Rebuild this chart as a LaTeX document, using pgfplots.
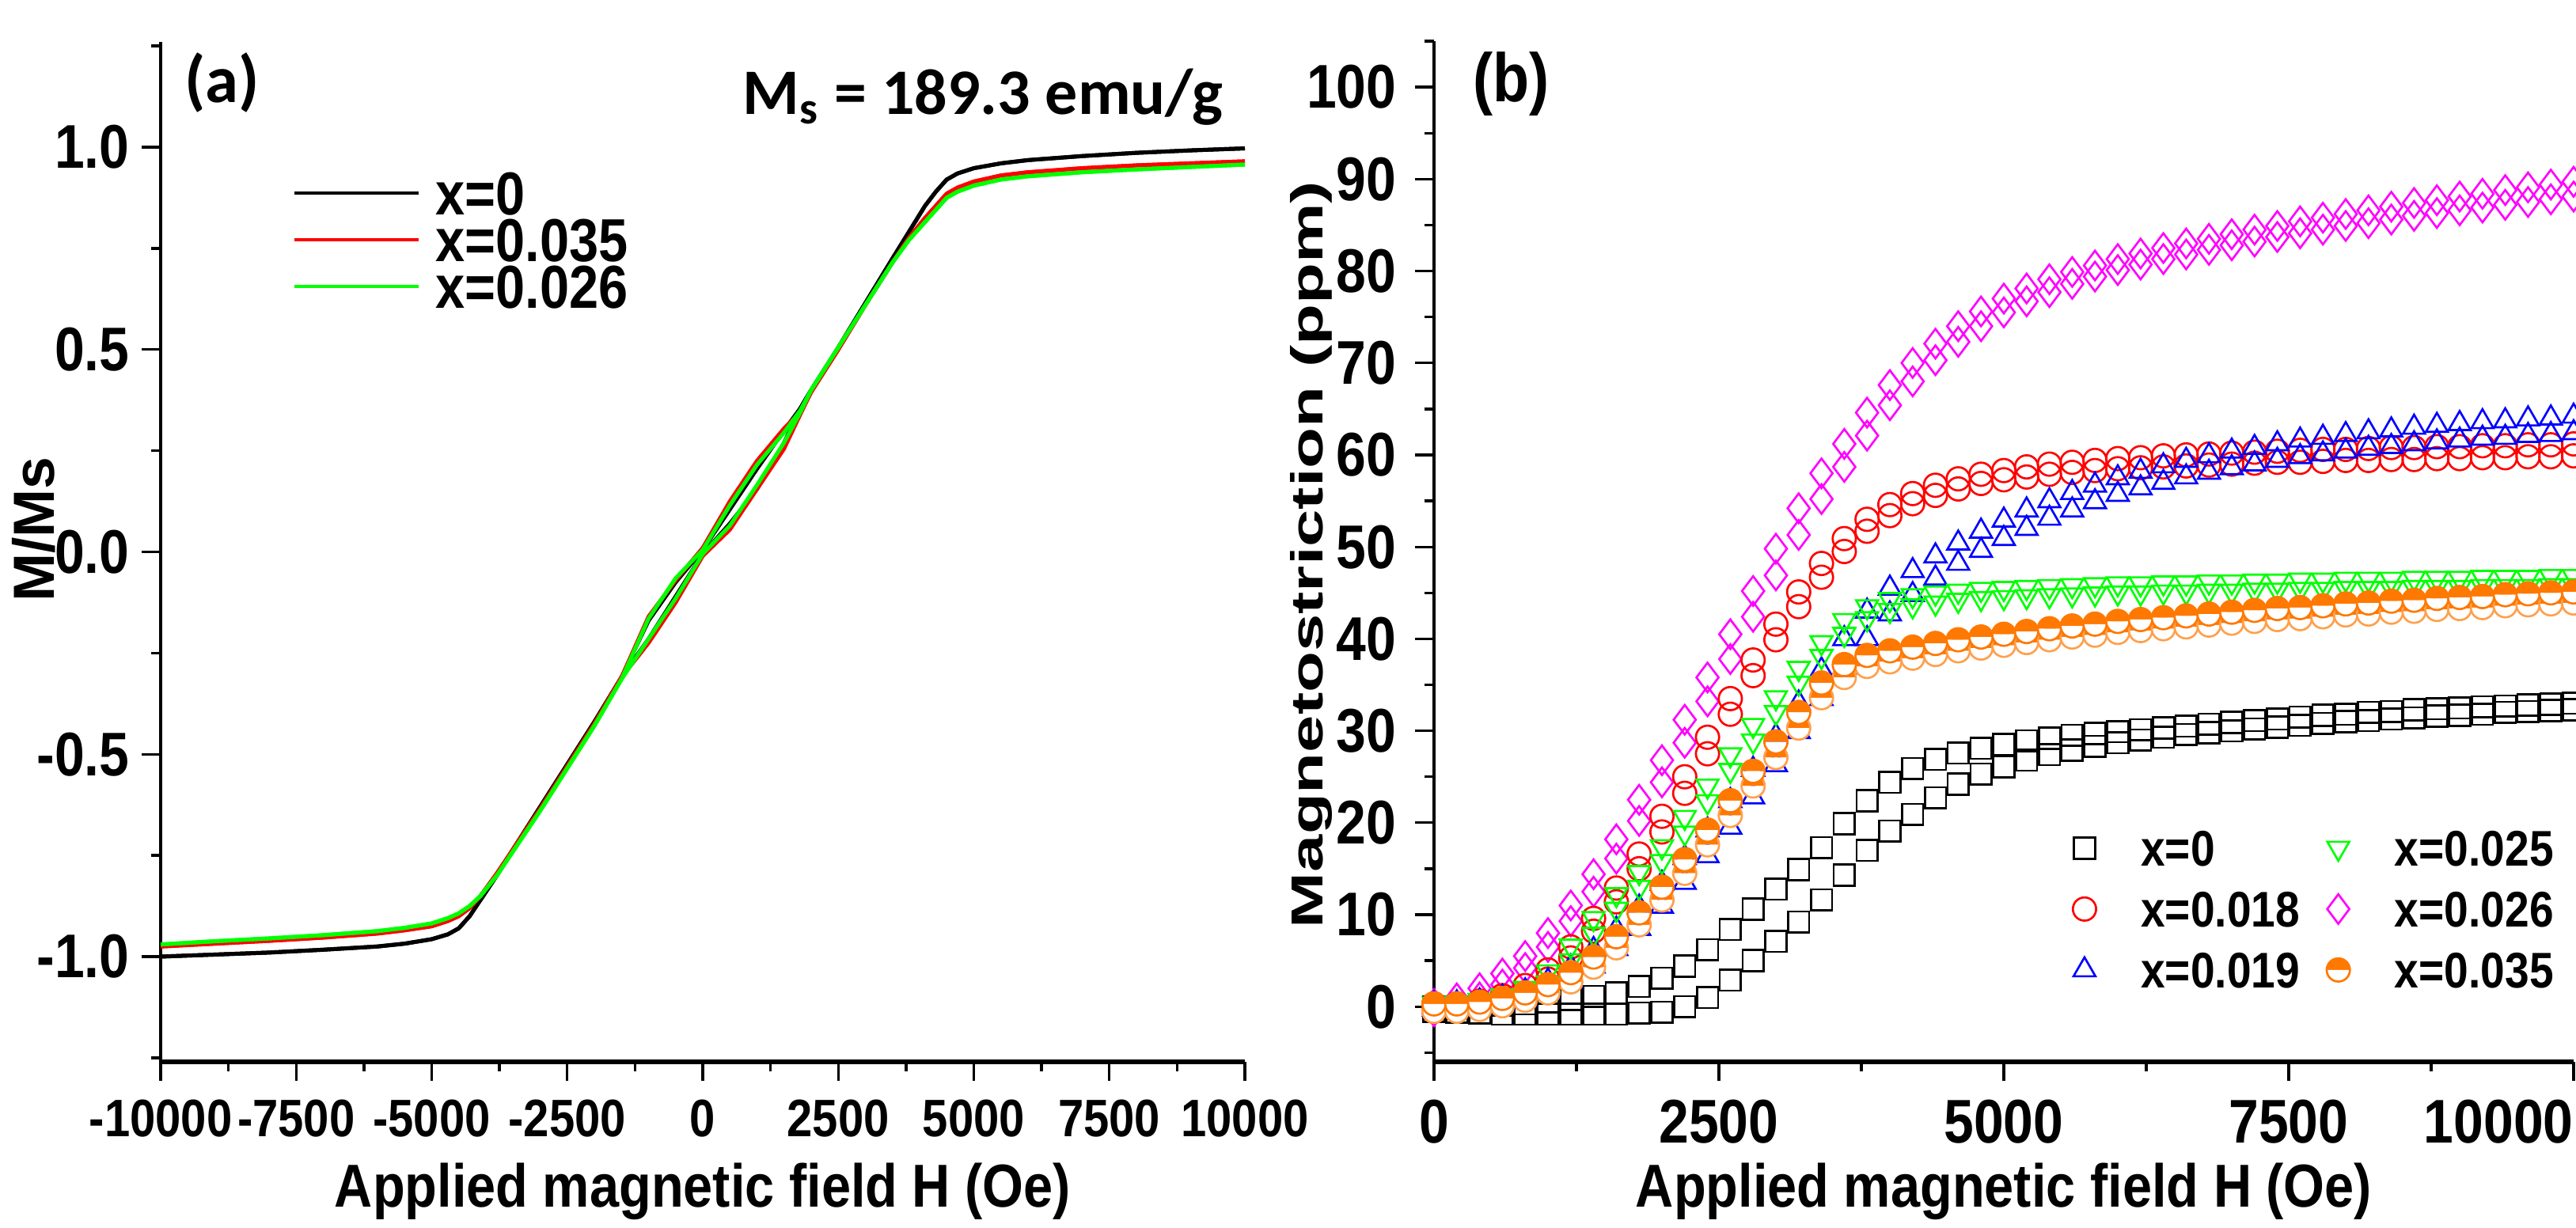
\documentclass[border=0pt]{standalone}
\usepackage{pgfplots}
\pgfplotsset{compat=1.18}
\usepackage{pgfplotstable}
\usepackage{fontspec}
\setmainfont{Liberation Sans}
\newfontfamily\lab{Liberation Sans}[FakeStretch=0.87]
\newfontfamily\labwide{Liberation Sans}[FakeStretch=1.5]
\newfontfamily\carl{Carlito}
\usetikzlibrary{plotmarks}
\definecolor{mgreen}{RGB}{0,255,0}
\definecolor{mmag}{RGB}{255,0,255}
\definecolor{morange}{RGB}{255,120,0}

% (a) M/Ms loops: u = field going up, d = field coming down
\pgfplotstableread{
H      a0u    a0d    a35u   a35d   a26u   a26d
-10000 -1.000 -1.000 -0.975 -0.975 -0.970 -0.970
-9000  -0.995 -0.995 -0.968 -0.968 -0.962 -0.962
-8000  -0.990 -0.990 -0.961 -0.961 -0.955 -0.955
-7000  -0.983 -0.983 -0.953 -0.953 -0.947 -0.947
-6000  -0.975 -0.975 -0.943 -0.943 -0.937 -0.937
-5500  -0.968 -0.968 -0.935 -0.935 -0.929 -0.929
-5000  -0.957 -0.957 -0.925 -0.925 -0.918 -0.918
-4700  -0.945 -0.945 -0.912 -0.912 -0.905 -0.905
-4500  -0.930 -0.930 -0.900 -0.900 -0.893 -0.893
-4300  -0.900 -0.900 -0.880 -0.880 -0.875 -0.875
-4100  -0.860 -0.860 -0.850 -0.850 -0.850 -0.850
-3800  -0.800 -0.800 -0.795 -0.795 -0.800 -0.800
-3500  -0.735 -0.735 -0.735 -0.735 -0.740 -0.740
-3000  -0.630 -0.630 -0.635 -0.635 -0.640 -0.640
-2500  -0.525 -0.525 -0.530 -0.530 -0.535 -0.535
-2000  -0.420 -0.420 -0.425 -0.425 -0.430 -0.430
-1500  -0.310 -0.310 -0.310 -0.310 -0.315 -0.315
-1000  -0.215 -0.170 -0.225 -0.160 -0.215 -0.165
-500   -0.110 -0.075 -0.125 -0.070 -0.115 -0.065
0      -0.005  0.005 -0.010  0.010 -0.005  0.005
500     0.070  0.105  0.055  0.125  0.065  0.115
1000    0.155  0.205  0.155  0.225  0.165  0.215
1500    0.270  0.300  0.255  0.305  0.270  0.295
1800    0.355  0.355  0.340  0.345  0.345  0.350
2000    0.400  0.400  0.395  0.395  0.400  0.400
2500    0.505  0.505  0.500  0.500  0.505  0.505
3000    0.615  0.615  0.610  0.610  0.610  0.610
3500    0.725  0.725  0.715  0.715  0.715  0.715
3800    0.790  0.790  0.775  0.775  0.770  0.770
4100    0.855  0.855  0.825  0.825  0.815  0.815
4300    0.890  0.890  0.855  0.855  0.845  0.845
4500    0.920  0.920  0.885  0.885  0.875  0.875
4700    0.935  0.935  0.900  0.900  0.890  0.890
5000    0.948  0.948  0.915  0.915  0.905  0.905
5500    0.960  0.960  0.930  0.930  0.920  0.920
6000    0.968  0.968  0.938  0.938  0.928  0.928
7000    0.978  0.978  0.948  0.948  0.938  0.938
8000    0.986  0.986  0.955  0.955  0.945  0.945
9000    0.992  0.992  0.960  0.960  0.951  0.951
10000   0.997  0.997  0.965  0.965  0.957  0.957
}\tabA

% (b) magnetostriction (ppm): u = increasing field, d = decreasing field
\pgfplotstableread{
H     k0u  k0d  k18u k18d k19u k19d k25u k25d k26u k26d k35u k35d
0     0.0 -0.5  0.3 -0.5  0.3 -0.3  0.3 -0.3  0.3 -0.5  0.3 -0.5
200   0.0 -0.6  0.3 -0.4  0.4 -0.2  0.4 -0.2  0.9  0.0  0.3 -0.5
400   0.1 -0.7  0.6 -0.1  0.6  0.0  0.7  0.1  2.0  1.0  0.5 -0.3
600   0.2 -0.8  1.2  0.5  1.0  0.3  1.2  0.6  3.6  2.4  0.9  0.1
800   0.3 -0.8  2.3  1.5  1.7  0.8  2.0  1.2  5.5  4.2  1.5  0.7
1000  0.5 -0.8  4.0  3.0  2.8  1.6  3.8  2.6  8.0  6.5  2.4  1.5
1200  0.8 -0.8  6.5  5.3  4.3  2.8  6.6  5.0 11.0  9.3  3.7  2.7
1400  1.1 -0.8  9.6  8.2  6.2  4.4  9.6  7.9 14.4 12.5  5.4  4.3
1600  1.5 -0.8 12.9 11.4  8.4  6.3 12.2 10.6 18.2 16.1  7.6  6.4
1800  2.2 -0.7 16.6 15.0 10.8  8.5 14.6 13.0 22.5 20.2 10.2  8.9
2000  3.1 -0.6 20.7 19.0 13.4 10.9 17.4 15.8 26.8 24.4 13.0 11.6
2200  4.4  0.0 25.0 23.2 16.2 13.5 20.6 18.9 31.2 28.7 16.0 14.5
2400  6.2  1.0 29.3 27.5 19.2 16.4 24.0 22.3 35.8 33.2 19.2 17.6
2600  8.4  2.9 33.5 31.8 22.4 19.5 27.4 25.7 40.5 37.8 22.4 20.8
2800 10.6  5.0 37.7 36.0 25.8 22.8 30.6 28.9 45.2 42.4 25.6 24.0
3000 12.8  7.1 41.6 39.9 29.4 26.3 33.6 32.0 49.8 46.9 28.8 27.1
3200 14.9  9.2 45.1 43.5 33.0 29.9 36.8 35.2 54.2 51.3 32.0 30.3
3400 17.3 11.6 48.2 46.7 36.6 33.5 39.6 38.1 58.0 55.2 35.2 33.6
3600 19.9 14.3 50.9 49.5 40.0 36.9 42.0 40.5 61.2 58.7 37.2 35.8
3800 22.4 17.0 53.0 51.7 43.0 40.0 43.5 42.2 64.6 62.1 38.2 37.0
4000 24.4 19.1 54.6 53.4 45.5 42.7 44.3 43.1 67.6 65.4 38.7 37.5
4200 25.9 20.9 55.8 54.7 47.4 44.8 44.7 43.6 70.0 68.0 39.1 37.9
4400 26.9 22.7 56.7 55.6 49.0 46.6 45.0 43.9 72.1 70.3 39.5 38.3
4600 27.6 24.2 57.4 56.3 50.4 48.2 45.2 44.2 74.0 72.3 39.9 38.7
4800 28.1 25.3 57.9 56.9 51.7 49.6 45.4 44.4 75.6 74.0 40.2 39.0
5000 28.5 26.1 58.3 57.3 52.9 50.9 45.5 44.5 77.0 75.5 40.5 39.3
5200 28.9 26.8 58.7 57.6 54.0 52.0 45.6 44.6 78.1 76.7 40.8 39.6
5400 29.2 27.4 59.0 57.9 55.0 53.1 45.7 44.7 79.1 77.7 41.1 39.9
5600 29.5 27.9 59.2 58.1 55.9 54.0 45.8 44.8 79.9 78.6 41.4 40.2
5800 29.7 28.3 59.4 58.3 56.7 54.9 45.9 44.9 80.6 79.4 41.6 40.4
6000 29.9 28.7 59.6 58.5 57.5 55.7 46.0 45.0 81.3 80.1 41.9 40.7
6200 30.1 29.0 59.7 58.6 58.2 56.4 46.0 45.0 81.9 80.7 42.1 40.9
6400 30.3 29.3 59.9 58.7 58.8 57.0 46.1 45.1 82.5 81.3 42.3 41.1
6600 30.5 29.6 60.0 58.8 59.4 57.6 46.1 45.1 83.0 81.8 42.5 41.3
6800 30.7 29.8 60.1 58.9 59.9 58.1 46.2 45.2 83.5 82.3 42.7 41.5
7000 30.9 30.0 60.2 59.0 60.4 58.6 46.2 45.2 84.0 82.8 42.9 41.7
7200 31.1 30.2 60.3 59.1 60.8 59.0 46.3 45.3 84.5 83.2 43.1 41.9
7400 31.3 30.4 60.4 59.2 61.2 59.4 46.3 45.3 84.9 83.7 43.3 42.1
7600 31.5 30.6 60.5 59.2 61.6 59.8 46.4 45.4 85.4 84.1 43.4 42.2
7800 31.7 30.8 60.6 59.3 61.9 60.1 46.4 45.4 85.8 84.5 43.6 42.4
8000 31.8 31.0 60.6 59.4 62.2 60.4 46.5 45.5 86.2 84.9 43.8 42.6
8200 32.0 31.1 60.7 59.4 62.5 60.7 46.5 45.5 86.6 85.2 43.9 42.7
8400 32.1 31.3 60.8 59.5 62.7 60.9 46.5 45.5 87.0 85.6 44.1 42.9
8600 32.3 31.4 60.8 59.5 63.0 61.2 46.6 45.6 87.4 86.0 44.2 43.0
8800 32.4 31.6 60.9 59.6 63.2 61.4 46.6 45.6 87.7 86.3 44.4 43.2
9000 32.5 31.7 60.9 59.6 63.4 61.6 46.6 45.6 88.1 86.6 44.5 43.3
9200 32.6 31.8 61.0 59.7 63.6 61.8 46.7 45.7 88.4 86.9 44.6 43.4
9400 32.7 32.0 61.0 59.7 63.7 61.9 46.7 45.7 88.8 87.2 44.8 43.6
9600 32.8 32.1 61.1 59.8 63.9 62.1 46.7 45.7 89.1 87.5 44.9 43.7
9800 32.9 32.2 61.1 59.8 64.0 62.2 46.8 45.8 89.4 87.8 45.0 43.8
10000 33.0 32.3 61.2 59.9 64.2 62.4 46.8 45.8 89.7 88.1 45.1 43.9
}\tabB

\pgfplotsset{
  panel/.style={
    scale only axis, anchor=south west,
    axis x line=bottom, axis y line=left,
    x axis line style={-, line width=1pt},
    y axis line style={-, line width=0.5pt},
    tick align=outside,
    major tick length=3.6pt, minor tick length=1.8pt,
    tick style={black, line width=0.5pt},
    scaled ticks=false,
    /pgf/number format/assume math mode=true,
    /pgf/number format/1000 sep={},
  },
}

\begin{document}
\begin{tikzpicture}
\useasboundingbox (0,0) rectangle (488.25pt,232.8pt);
\clip (0,0) rectangle (488.25pt,232.8pt);

% ---------------- (a) ----------------
\begin{axis}[panel,
  at={(30.45pt,31.5pt)}, width=205.5pt, height=193.35pt,
  xmin=-10000, xmax=10000, ymin=-1.26, ymax=1.26,
  xtick={-10000,-7500,...,10000},
  minor xtick={-8750,-6250,-3750,-1250,1250,3750,6250,8750},
  ytick={-1,-0.5,0,0.5,1},
  minor ytick={-1.25,-0.75,-0.25,0.25,0.75,1.25},
  xticklabel style={font=\lab\bfseries\fontsize{10}{12}\selectfont},
  yticklabel style={font=\lab\bfseries\fontsize{11.7}{13}\selectfont, xshift=1.2pt,
    /pgf/number format/.cd, fixed, fixed zerofill, precision=1},
  xlabel={Applied magnetic field H (Oe)},
  ylabel={M/Ms},
  xlabel style={font=\lab\bfseries\fontsize{11.5}{13}\selectfont,
    at={(axis description cs:0.5,-0.142)}, anchor=base},
  ylabel style={font=\bfseries\fontsize{11}{13}\selectfont,
    at={(axis description cs:-0.1168,0.522)}, anchor=center},
  legend style={draw=none, fill=none, inner sep=0pt,
    at={(0.1212,0.874)}, anchor=north west,
    nodes={inner sep=0pt, text height=8.25pt, text depth=0pt,
      font=\lab\bfseries\fontsize{11.5}{13}\selectfont},
    row sep=0.6pt,
    /tikz/every odd column/.append style={column sep=2.85pt}},
  legend cell align=left,
  legend image code/.code={\draw[#1, line width=0.6pt] (0pt,0pt) -- (23.55pt,0pt);},
]
\addplot[black, line width=0.75pt] table[x=H, y=a0u] {\tabA};
\addlegendentry{x=0}
\addplot[black, line width=0.75pt, forget plot] table[x=H, y=a0d] {\tabA};
\addplot[red, line width=0.75pt] table[x=H, y=a35u] {\tabA};
\addlegendentry{x=0.035}
\addplot[red, line width=0.75pt, forget plot] table[x=H, y=a35d] {\tabA};
\addplot[mgreen, line width=0.75pt] table[x=H, y=a26u] {\tabA};
\addlegendentry{x=0.026}
\addplot[mgreen, line width=0.75pt, forget plot] table[x=H, y=a26d] {\tabA};
\end{axis}

% ---------------- (b) ----------------
\begin{axis}[panel,
  at={(271.8pt,31.5pt)}, width=216pt, height=193.5pt,
  xmin=0, xmax=10000, ymin=-6, ymax=105, clip=false,
  xtick={0,2500,5000,7500},
  extra x ticks={10000},
  extra x tick style={xticklabel style={xshift=-14.2pt}},
  minor xtick={1250,3750,6250,8750},
  ytick={0,10,...,100},
  minor ytick={-5,5,...,105},
  xticklabel style={font=\lab\bfseries\fontsize{11.7}{13}\selectfont},
  yticklabel style={font=\lab\bfseries\fontsize{11.7}{13}\selectfont},
  xlabel={Applied magnetic field H (Oe)},
  ylabel={Magnetostriction (ppm)},
  xlabel style={font=\lab\bfseries\fontsize{11.5}{13}\selectfont,
    at={(axis description cs:0.5,-0.142)}, anchor=base},
  ylabel style={font=\labwide\bfseries\fontsize{8.5}{10}\selectfont,
    at={(axis description cs:-0.1076,0.497)}, anchor=center},
  legend style={draw=none, fill=none, inner sep=0pt,
    at={(0.5597,0.228)}, anchor=north west,
    nodes={inner sep=0pt, text height=6.8pt, text depth=0pt,
      font=\lab\bfseries\fontsize{9.5}{11}\selectfont},
    row sep=4.75pt,
    /tikz/every odd column/.append style={column sep=8.5pt},
    /tikz/every even column/.append style={column sep=5.1pt}},
  legend columns=2, legend cell align=left,
  legend image code/.code={\draw[mark repeat=2,mark phase=2,#1]
    plot coordinates {(0pt,0pt) (6pt,0pt) (12pt,0pt)};},
]
\addplot[only marks, mark=square, mark size=2pt, black, line width=0.4pt, forget plot] table[x=H, y=k0u] {\tabB};
\addplot[only marks, mark=square, mark size=2pt, black, line width=0.4pt, forget plot] table[x=H, y=k0d] {\tabB};
\addplot[only marks, mark=diamond, mark size=2.8pt, mmag, line width=0.4pt, forget plot] table[x=H, y=k26u] {\tabB};
\addplot[only marks, mark=diamond, mark size=2.8pt, mmag, line width=0.4pt, forget plot] table[x=H, y=k26d] {\tabB};
\addplot[only marks, mark=o, mark size=2.2pt, red, line width=0.4pt, forget plot] table[x=H, y=k18u] {\tabB};
\addplot[only marks, mark=o, mark size=2.2pt, red, line width=0.4pt, forget plot] table[x=H, y=k18d] {\tabB};
\addplot[only marks, mark=triangle, mark size=2.4pt, blue, line width=0.4pt, forget plot] table[x=H, y=k19u] {\tabB};
\addplot[only marks, mark=triangle, mark size=2.4pt, blue, line width=0.4pt, forget plot] table[x=H, y=k19d] {\tabB};
\addplot[only marks, mark=triangle, mark size=2.4pt, mark options={rotate=180}, mgreen, line width=0.4pt, forget plot] table[x=H, y=k25u] {\tabB};
\addplot[only marks, mark=triangle, mark size=2.4pt, mark options={rotate=180}, mgreen, line width=0.4pt, forget plot] table[x=H, y=k25d] {\tabB};
\addplot[only marks, mark=halfcircle*, mark size=2.2pt, mark options={draw=morange!70, fill=morange}, line width=0.4pt, forget plot] table[x=H, y=k35d] {\tabB};
\addplot[only marks, mark=halfcircle*, mark size=2.2pt, mark options={draw=morange, fill=morange}, line width=0.4pt, forget plot] table[x=H, y=k35u] {\tabB};

\addlegendimage{only marks, mark=square, mark size=2pt, black, line width=0.4pt}
\addlegendentry{x=0}
\addlegendimage{only marks, mark=triangle, mark size=2.4pt, mark options={rotate=180}, mgreen, line width=0.4pt}
\addlegendentry{x=0.025}
\addlegendimage{only marks, mark=o, mark size=2.2pt, red, line width=0.4pt}
\addlegendentry{x=0.018}
\addlegendimage{only marks, mark=diamond, mark size=2.8pt, mmag, line width=0.4pt}
\addlegendentry{x=0.026}
\addlegendimage{only marks, mark=triangle, mark size=2.4pt, blue, line width=0.4pt}
\addlegendentry{x=0.019}
\addlegendimage{only marks, mark=halfcircle*, mark size=2.2pt, mark options={draw=morange, fill=morange}, line width=0.4pt}
\addlegendentry{x=0.035}
\end{axis}

% panel tags and saturation value
\node[anchor=base west, inner sep=0pt, font=\carl\bfseries\fontsize{12.7}{14}\selectfont] at (34.8pt,213.3pt) {(a)};
\node[anchor=base west, inner sep=0pt, font=\lab\bfseries\fontsize{13}{15}\selectfont] at (279pt,213.45pt) {(b)};
\node[anchor=base west, inner sep=0pt, font=\carl\bfseries\fontsize{12.3}{14}\selectfont] at (140.55pt,211.05pt) {M\textsubscript{s} = 189.3 emu/g};
\end{tikzpicture}
\end{document}
